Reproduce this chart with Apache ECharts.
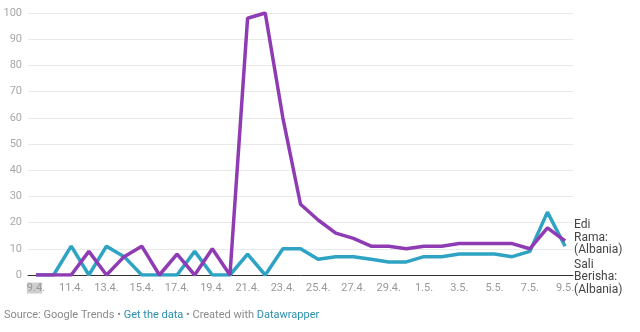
<!DOCTYPE html>
<html>
<head>
<meta charset="utf-8">
<script src="https://cdn.jsdelivr.net/npm/echarts@6/dist/echarts.min.js"></script>
<style>
html,body{margin:0;padding:0;background:#fff;}
#c{width:640px;height:332px;}
</style>
</head>
<body>
<div id="c"></div>
<script>
var categories = ['9.4.','10.4.','11.4.','12.4.','13.4.','14.4.','15.4.','16.4.','17.4.','18.4.','19.4.','20.4.','21.4.','22.4.','23.4.','24.4.','25.4.','26.4.','27.4.','28.4.','29.4.','30.4.','1.5.','2.5.','3.5.','4.5.','5.5.','6.5.','7.5.','8.5.','9.5.'];
var ediRama = [0,0,0,9,0,7,11,0,8,0,10,0,98,100,60,27,21,16,14,11,11,10,11,11,12,12,12,12,10,18,13];
var saliBerisha = [0,0,11,0,11,7,0,0,0,9,0,0,8,0,10,10,6,7,7,6,5,5,7,7,8,8,8,7,9,24,11];
var yTicks = [0,10,20,30,40,50,60,70,80,90,100];
var xTickIdx = [0,2,4,6,8,10,12,14,16,18,20,22,24,26,28,30];

function pairs(arr){ return arr.map(function(v,i){ return [i,v]; }); }

var chart = echarts.init(document.getElementById('c'), null, {renderer:'canvas'});
var font = 'Roboto, "Noto Sans", sans-serif';
chart.setOption({
  animation:false,
  backgroundColor:'#fff',
  grid:{left:28,right:67,top:13,bottom:57},
  xAxis:{
    type:'value', min:-0.45, max:30.45,
    axisLine:{show:true, lineStyle:{color:'#333', width:1}},
    axisTick:{show:false},
    splitLine:{show:false},
    axisLabel:{
      customValues:xTickIdx,
      margin:7,
      color:'#999', fontSize:11, fontFamily:font, lineHeight:12,
      formatter:function(v){
        var s = categories[Math.round(v)];
        if (Math.round(v)===0) return '{hl|'+s.slice(0,-1)+'}{n|'+s.slice(-1)+'}';
        return s;
      },
      rich:{
        hl:{backgroundColor:'#cfcfcf', color:'#999', fontSize:11, fontFamily:font, lineHeight:12, verticalAlign:'middle'},
        n:{color:'#999', fontSize:11, fontFamily:font, lineHeight:12, verticalAlign:'middle'}
      }
    }
  },
  yAxis:{
    type:'value', min:0, max:100, interval:10,
    axisLine:{show:false}, axisTick:{show:false},
    splitLine:{lineStyle:{color:'#e9e9e9', width:1}},
    axisLabel:{color:'#a8a8a8', fontSize:11, fontFamily:font, margin:6}
  },
  series:[
    {
      name:'Sali Berisha: (Albania)', type:'line', data:pairs(saliBerisha),
      showSymbol:false, symbol:'none',
      lineStyle:{color:'#2ea3c4', width:3.5}, itemStyle:{color:'#2ea3c4'},
      z:2,
      endLabel:{show:true, formatter:'Sali\nBerisha:\n(Albania)', color:'#444', fontSize:12, lineHeight:12.5, fontFamily:font, offset:[1,31], align:'left'}
    },
    {
      name:'Edi Rama: (Albania)', type:'line', data:pairs(ediRama),
      showSymbol:false, symbol:'none',
      lineStyle:{color:'#8f3bb3', width:3.5}, itemStyle:{color:'#8f3bb3'},
      z:3,
      endLabel:{show:true, formatter:'Edi\nRama:\n(Albania)', color:'#444', fontSize:12, lineHeight:12.5, fontFamily:font, offset:[1,-3], align:'left'}
    }
  ],
  graphic:[
    {type:'text', left:4, top:310, style:{
      text:'{g|Source: Google Trends • }{b|Get the data}{g| • Created with }{b|Datawrapper}',
      rich:{g:{fill:'#8a8a8a', fontSize:11, fontFamily:font}, b:{fill:'#2b8fb0', fontSize:11, fontFamily:font}}
    }}
  ]
});
</script>
</body>
</html>
